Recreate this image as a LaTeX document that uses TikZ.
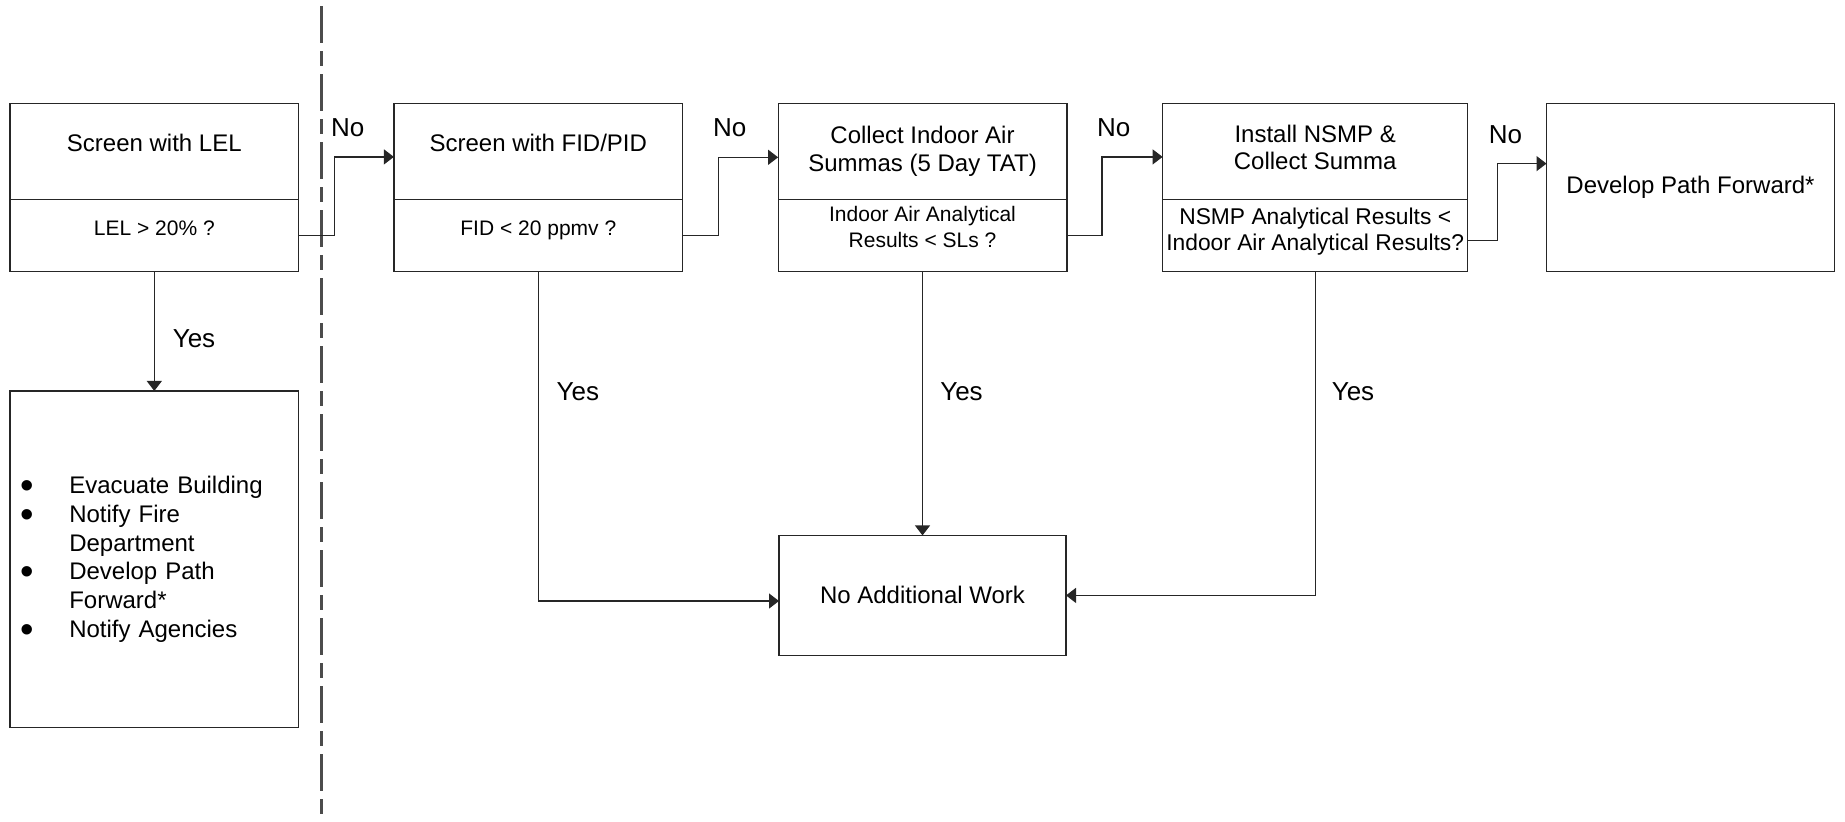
\documentclass[tikz,border=0pt]{standalone}
\usepackage{fontspec}
\setmainfont{Liberation Sans}
\usetikzlibrary{positioning,arrows.meta}

\newcommand{\actbullet}{\makebox[23.3pt][l]{\hspace*{-1.2pt}\smash{\raisebox{-2.4pt}{\scalebox{1.6}{\textbullet}}}}}
\newcommand{\padbelow}[1]{\rule[-#1]{0pt}{#1}}

\tikzset{
  frame/.style={draw=black!85,line width=0.6pt,rectangle,inner sep=0pt,outer sep=0pt,
    minimum width=144.4pt,align=center},
  head/.style={frame,minimum height=48pt,font=\fontsize{12}{13.6}\selectfont},
  query/.style={frame,minimum height=36.2pt,font=\fontsize{10.5}{12.8}\selectfont},
  oneline/.style={text height=8pt,text depth=8pt},
  flow/.style={draw=black!85,line width=0.6pt,-{Triangle[length=5pt,width=7.5pt]}},
  answer/.style={font=\fontsize{13}{15}\selectfont,inner sep=0pt},
  divider/.style={draw=black!70,line width=1.3pt,dash pattern=on 18.5pt off 4pt on 7.5pt off 4pt},
}

\begin{document}
\begin{tikzpicture}[x=0.5pt,y=-0.5pt]
  \useasboundingbox (0,0) rectangle (1845,821);

  % top row of screening steps
  \node[head,oneline] (lel) at (154.3,151.3) {Screen with LEL};
  \node[query,oneline,below=0pt of lel] (lelq) {LEL > 20\% ?};
  \node[head,oneline] (fid) at (538.3,151.3) {Screen with FID/PID};
  \node[query,oneline,below=0pt of fid] (fidq) {FID < 20 ppmv ?};
  \node[head] (ia) at (922.5,151.3) {Collect Indoor Air\\Summas (5 Day TAT)};
  \node[query,below=0pt of ia] (iaq) {Indoor Air Analytical\\Results < SLs ?\padbelow{8.5pt}};
  \node[head,minimum width=152.6pt] (nsmp) at (1315.2,151.3) {Install NSMP \&\\Collect Summa\padbelow{4pt}};
  \node[query,minimum width=152.6pt,below=0pt of nsmp,font=\fontsize{11.4}{12.8}\selectfont] (nsmpq)
    {NSMP Analytical Results <\\Indoor Air Analytical Results?\padbelow{6.5pt}};
  \node[frame,minimum width=144pt,minimum height=84.1pt,font=\fontsize{12}{13.6}\selectfont] (dev)
    at (1690.5,187.6) {Develop Path Forward*};

  % outcomes
  \node[frame,minimum height=168.35pt,text width=131.65pt,inner xsep=6.35pt,align=left,
    font=\fontsize{12}{14.4}\selectfont] (act) at (154.3,559.3)
    {\actbullet Evacuate Building\\
     \actbullet Notify Fire\\
     \hspace*{23.3pt}Department\\
     \actbullet Develop Path\\
     \hspace*{23.3pt}Forward*\\
     \actbullet Notify Agencies};
  \node[frame,minimum width=143.5pt,minimum height=60pt,font=\fontsize{12}{13.6}\selectfont] (noadd)
    at (922.5,595.4) {No Additional Work};

  % dashed divider
  \coordinate (divtop) at (321.7,6);
  \coordinate (divbot) at (321.7,821);
  \draw[divider] (divtop) -- (divbot);

  % No branches
  \draw[flow] (lelq.east) -- ++(35.6,0) |- ([yshift=-2.8pt]fid.west);
  \draw[flow] (fidq.east) -- ++(35.6,0) |- ([yshift=-3pt]ia.west);
  \draw[flow] (iaq.east) -- ++(35,0) |- ([yshift=-2.8pt]nsmp.west);
  \draw[flow] ([yshift=-2.3pt]nsmpq.east) -- ++(29.5,0) |- ([yshift=12pt]dev.west);

  % Yes branches
  \draw[flow] (lelq.south) -- (act.north);
  \draw[flow] (fidq.south) |- ([yshift=-2.8pt]noadd.west);
  \draw[flow] (iaq.south) -- (noadd.north);
  \draw[flow] (nsmpq.south) |- (noadd.east);

  % labels
  \node[answer] (no1) at (347.8,127.5) {No};
  \node[answer] (no2) at (729.7,127.5) {No};
  \node[answer] (no3) at (1113.8,127.5) {No};
  \node[answer] (no4) at (1505.5,135) {No};
  \node[answer] (yes1) at (194,339) {Yes};
  \node[answer] (yes2) at (577.8,392) {Yes};
  \node[answer] (yes3) at (961.5,392) {Yes};
  \node[answer] (yes4) at (1353,392) {Yes};
\end{tikzpicture}
\end{document}
